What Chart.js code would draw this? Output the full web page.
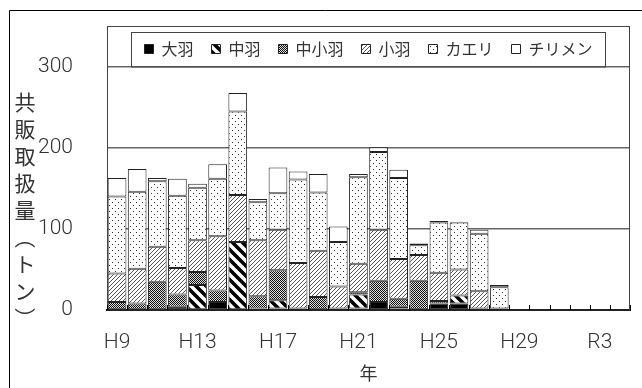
<!DOCTYPE html>
<html>
<head>
<meta charset="utf-8">
<script src="https://cdn.jsdelivr.net/npm/chart.js@4.4.1/dist/chart.umd.min.js"></script>
<style>
  body { margin: 0; background: #fff; }
</style>
</head>
<body>
<canvas id="Chart" width="642" height="388"></canvas>
<script>
// categories (H9 .. R4), values in tons, stacked bottom to top
const years = ['H9', 'H10', 'H11', 'H12', 'H13', 'H14', 'H15', 'H16', 'H17', 'H18', 'H19', 'H20', 'H21',
  'H22', 'H23', 'H24', 'H25', 'H26', 'H27', 'H28', 'H29', 'H30', 'R1', 'R2', 'R3', 'R4'];
const oba      = [0, 0, 1, 4, 0, 10, 1, 2, 2, 0, 1, 1, 2, 10, 2, 0, 8, 8, 1, 1];
const chuba    = [0, 0, 0, 0, 31, 0, 83, 0, 10, 0, 0, 0, 17, 0, 2, 0, 0, 10, 0, 0];
const chushoba = [10, 8, 34, 15, 16, 14, 0, 15, 37, 2, 15, 1, 3, 26, 10, 36, 3, 0, 1, 1];
const koba     = [35, 43, 43, 33, 39, 67, 58, 69, 50, 56, 57, 27, 35, 63, 49, 32, 35, 32, 21, 0];
const kaeri    = [95, 95, 81, 89, 65, 71, 103, 47, 45, 103, 72, 55, 107, 96, 100, 12, 62, 58, 71, 26];
const chirimen = [23, 28, 4, 21, 5, 18, 23, 4, 32, 10, 23, 19, 4, 6, 10, 2, 2, 1, 5, 3];
const yTicks = [0, 100, 200, 300];
const yTitle = ['共', '販', '取', '扱', '量', '︵', 'ト', 'ン', '︶'];
const xTitle = '年';

const canvas = document.getElementById('Chart');
const mainCtx = canvas.getContext('2d');

function pattern(w, h, draw) {
  const c = document.createElement('canvas');
  c.width = w; c.height = h;
  const g = c.getContext('2d');
  g.fillStyle = '#fff';
  g.fillRect(0, 0, w, h);
  draw(g);
  return mainCtx.createPattern(c, 'repeat');
}

// wide black "\" stripes
const stripeWide = pattern(10, 10, (g) => {
  g.strokeStyle = '#000';
  g.lineWidth = 3.6;
  g.beginPath();
  g.moveTo(-5, -5); g.lineTo(15, 15);
  g.moveTo(-5, 5); g.lineTo(5, 15);
  g.moveTo(5, -5); g.lineTo(15, 5);
  g.stroke();
});
// grey checker
const checker = pattern(2, 2, (g) => {
  g.fillStyle = '#dcdcdc'; g.fillRect(0, 0, 2, 2);
  g.fillStyle = '#111';
  g.fillRect(0, 0, 1, 1); g.fillRect(1, 1, 1, 1);
});
// thin grey "/" hatch
const hatch = pattern(4, 4, (g) => {
  g.fillStyle = '#555';
  g.fillRect(3, 0, 1, 1); g.fillRect(2, 1, 1, 1);
  g.fillRect(1, 2, 1, 1); g.fillRect(0, 3, 1, 1);
});
// sparse dots
const dots = pattern(6, 6, (g) => {
  g.fillStyle = '#333';
  g.fillRect(1, 1, 1, 1); g.fillRect(4, 4, 1, 1);
});

const series = [
  ['大羽', oba, '#000'],
  ['中羽', chuba, stripeWide],
  ['中小羽', chushoba, checker],
  ['小羽', koba, hatch],
  ['カエリ', kaeri, dots],
  ['チリメン', chirimen, '#fff'],
];

const numFont = "Roboto, 'Noto Sans', sans-serif";
const jpFont = "'Noto Sans CJK JP', sans-serif";

const framePlugin = {
  id: 'frame',
  beforeDraw(chart) {
    const ctx = chart.ctx;
    ctx.save();
    ctx.fillStyle = '#fff';
    ctx.fillRect(0, 0, chart.width, chart.height);
    ctx.restore();
  },
  afterDraw(chart) {
    const { ctx, chartArea: a, legend } = chart;
    const x = chart.scales.x;
    ctx.save();
    // outer chart border
    ctx.strokeStyle = '#000';
    ctx.lineWidth = 1;
    ctx.beginPath();
    ctx.moveTo(9.5, chart.height);
    ctx.lineTo(9.5, 10.5);
    ctx.lineTo(chart.width, 10.5);
    ctx.stroke();
    // plot area box (runs up behind the legend)
    ctx.strokeStyle = '#444';
    ctx.strokeRect(a.left + 0.5, 26.5, a.right - a.left - 1, a.bottom - 26.5);
    // legend box
    const hb = legend.legendHitBoxes;
    const l = Math.min(...hb.map((b) => b.left));
    const r = Math.max(...hb.map((b) => b.left + b.width));
    ctx.strokeRect(Math.round(l - 13) + 0.5, 32.5, Math.round(r - l + 26), a.top - 32.5);
    // inside tick marks on the category axis
    ctx.strokeStyle = '#000';
    ctx.beginPath();
    const half = (x.getPixelForValue(1) - x.getPixelForValue(0)) / 2;
    for (let i = 0; i <= years.length; i++) {
      const px = Math.round(x.getPixelForValue(i) - half) + 0.5;
      ctx.moveTo(px, a.bottom);
      ctx.lineTo(px, a.bottom - 5);
    }
    ctx.stroke();
    // vertical axis title, one character per line
    ctx.fillStyle = '#333';
    ctx.font = "21px " + jpFont;
    ctx.textAlign = 'center';
    ctx.textBaseline = 'middle';
    yTitle.forEach((ch, i) => ctx.fillText(ch, 25, 102 + i * 27));
    ctx.restore();
  },
};

new Chart(canvas, {
  type: 'bar',
  data: {
    labels: years,
    datasets: series.map(([label, data, fill]) => ({
      label,
      data,
      backgroundColor: fill,
      borderColor: '#222',
      borderWidth: 1,
      borderSkipped: false,
      barPercentage: 1,
      categoryPercentage: 0.93,
    })),
  },
  options: {
    responsive: false,
    animation: false,
    layout: { padding: { top: 23, right: 12, left: 0, bottom: 0 } },
    plugins: {
      legend: {
        position: 'top',
        fullSize: false,
        labels: {
          boxWidth: 9,
          boxHeight: 9,
          padding: 18,
          color: '#333',
          font: { family: jpFont, size: 16 },
        },
      },
      tooltip: { enabled: false },
    },
    scales: {
      x: {
        stacked: true,
        grid: { display: false },
        border: { color: '#000', width: 2 },
        afterFit: (s) => { s.height = 78; },
        ticks: {
          autoSkip: false,
          maxRotation: 0,
          padding: 12,
          color: '#333',
          font: { family: numFont, size: 21, weight: 300 },
          callback: (v, i) => (i % 4 === 0 ? years[i] : ''),
        },
        title: {
          display: true,
          text: xTitle,
          color: '#333',
          font: { family: jpFont, size: 18 },
          padding: { top: 0, bottom: 4 },
        },
      },
      y: {
        stacked: true,
        min: 0,
        max: yTicks[yTicks.length - 1],
        afterFit: (s) => { s.width = 107; },
        grid: { color: '#666', lineWidth: 1.5, drawTicks: false },
        border: { color: '#444', width: 1 },
        ticks: {
          stepSize: 100,
          padding: 34,
          color: '#333',
          font: { family: numFont, size: 21, weight: 300 },
        },
      },
    },
  },
  plugins: [framePlugin],
});
</script>
</body>
</html>
